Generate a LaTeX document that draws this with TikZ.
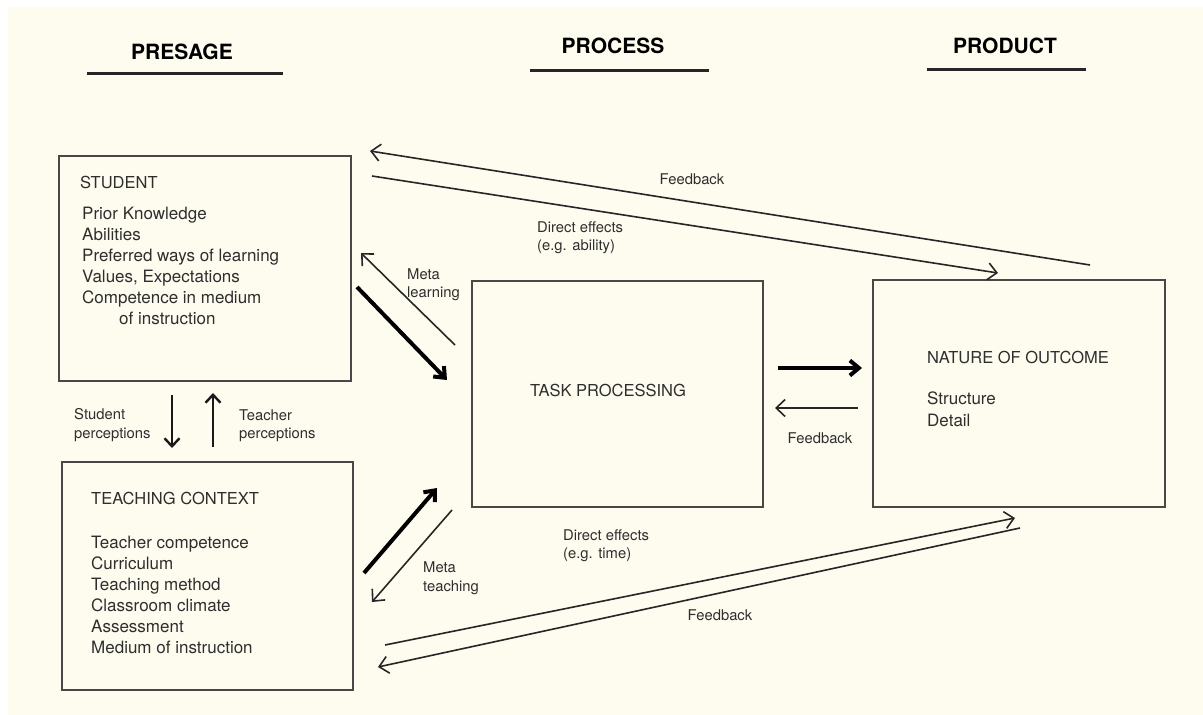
\documentclass[tikz,border=0pt]{standalone}
\usepackage{fontspec}
\setmainfont{TeX Gyre Heros}
\usetikzlibrary{arrows.meta}
\definecolor{paper}{HTML}{FEFCEF}
\definecolor{ink}{HTML}{2E2E2E}
\definecolor{frame}{HTML}{484848}

\tikzset{
    box/.style={draw=frame, line width=2pt, minimum width=291pt, minimum height=226pt, inner sep=0pt},
    heading/.style={font=\fontsize{21}{24}\selectfont\bfseries, text=black, inner sep=0pt, anchor=base},
    title/.style={font=\fontsize{16.5}{20}\selectfont, text=ink, inner sep=0pt, anchor=base west},
    item/.style={font=\fontsize{17}{21}\selectfont, text=ink, inner sep=0pt, anchor=base west},
    lab/.style={font=\fontsize{14.8}{18.5}\selectfont, text=ink, inner sep=0pt, anchor=base west},
    thin/.style={draw=black!85, line width=1.6pt, -{Straight Barb[length=9pt, width=17pt]}},
    bold/.style={draw=black, line width=4pt, -{Straight Barb[length=9pt, width=15pt]}},
    mid/.style={draw=black!90, line width=2.4pt, -{Straight Barb[length=8pt, width=15pt]}},
}

\begin{document}
\begin{tikzpicture}[x=1pt, y=-1pt]
    \useasboundingbox (0,0) rectangle (1203,715);
    \fill[white] (0,0) rectangle (1203,715);
    \fill[paper] (8,7) rectangle (1203,715);

    % Column headings
    \node[heading] (presage) at (182,59.5) {PRESAGE};
    \node[heading] (process) at (613,53.5) {PROCESS};
    \node[heading] (product) at (1005,53.5) {PRODUCT};
    \draw[line width=3pt, black!85] (87,73) -- (283,73);
    \draw[line width=3pt, black!85] (530,70) -- (709,70);
    \draw[line width=3pt, black!85] (927,69) -- (1086,69);

    % Boxes
    \node[box, minimum width=292pt, minimum height=225pt] (student) at (205,268.5) {};
    \node[box, minimum height=228pt] (teaching) at (207.5,576) {};
    \node[box] (task) at (617.5,394) {};
    \node[box, minimum width=292pt, minimum height=227pt] (outcome) at (1019,393.5) {};

    % Student
    \node[title] (stuhead) at (80,188) {STUDENT};
    \foreach \t [count=\i] in {Prior Knowledge, Abilities, Preferred ways of learning,
            {Values, Expectations}, Competence in medium} {
        \node[item] (stu\i) at (82,198+21.1*\i) {\t};
    }
    \node[item] (stu6) at (119,324) {of instruction};

    % Teaching context
    \node[title] (teahead) at (91,504) {TEACHING CONTEXT};
    \foreach \t [count=\i] in {Teacher competence, Curriculum, Teaching method,
            Classroom climate, Assessment, Medium of instruction} {
        \node[item] (tea\i) at (91,527+21*\i) {\t};
    }

    % Task and outcome
    \node[title, anchor=base] (taskhead) at (608,396) {TASK PROCESSING};
    \node[title] (outhead) at (927,363) {NATURE OF OUTCOME};
    \node[item] (out1) at (927,404) {Structure};
    \node[item] (out2) at (927,426) {Detail};

    % Labels (two-line ones sit on the baseline of their last line)
    \node[lab, align=left] (stuperc) at (74,438) {Student\\perceptions};
    \node[lab, align=left] (teaperc) at (239,438.5) {Teacher\\perceptions};
    \node[lab, anchor=base] (fbtop) at (692,184) {Feedback};
    \node[lab, align=left] (detop) at (537,250.5) {Direct effects\\(e.g. ability)};
    \node[lab, align=left] (metal) at (407,297.5) {Meta\\learning};
    \node[lab, anchor=base] (fbmid) at (820,443) {Feedback};
    \node[lab, align=left] (metat) at (423,591) {Meta\\teaching};
    \node[lab, align=left] (debot) at (563,558.5) {Direct effects\\(e.g. time)};
    \node[lab, anchor=base] (fbbot) at (720,620) {Feedback};

    % Connector ends
    \coordinate (fbT1) at (1090,265);  \coordinate (fbT2) at (370,151);
    \coordinate (deT1) at (372,176);   \coordinate (deT2) at (998,273);
    \coordinate (mlA) at (455,345);    \coordinate (mlB) at (361,253);
    \coordinate (slA) at (357,287);    \coordinate (slB) at (447,380);
    \coordinate (tcA) at (364,573);    \coordinate (tcB) at (437,488);
    \coordinate (mtA) at (452,510);    \coordinate (mtB) at (372,602);
    \coordinate (spA) at (172,395);    \coordinate (spB) at (172,448);
    \coordinate (tpA) at (213,447);    \coordinate (tpB) at (213,393);
    \coordinate (toA) at (778,368);    \coordinate (toB) at (862,368);
    \coordinate (fbM1) at (858,408);   \coordinate (fbM2) at (775,408);
    \coordinate (deB1) at (385,645);   \coordinate (deB2) at (1015,518);
    \coordinate (fbB1) at (1020,528);  \coordinate (fbB2) at (378,667);

    % Arrows
    \draw[thin] (fbT1) -- (fbT2);
    \draw[thin] (deT1) -- (deT2);
    \draw[thin] (mlA) -- (mlB);
    \draw[bold] (slA) -- (slB);
    \draw[bold] (tcA) -- (tcB);
    \draw[thin] (mtA) -- (mtB);
    \draw[mid] (spA) -- (spB);
    \draw[mid] (tpA) -- (tpB);
    \draw[bold] (toA) -- (toB);
    \draw[thin] (fbM1) -- (fbM2);
    \draw[thin] (deB1) -- (deB2);
    \draw[thin] (fbB1) -- (fbB2);
\end{tikzpicture}
\end{document}
